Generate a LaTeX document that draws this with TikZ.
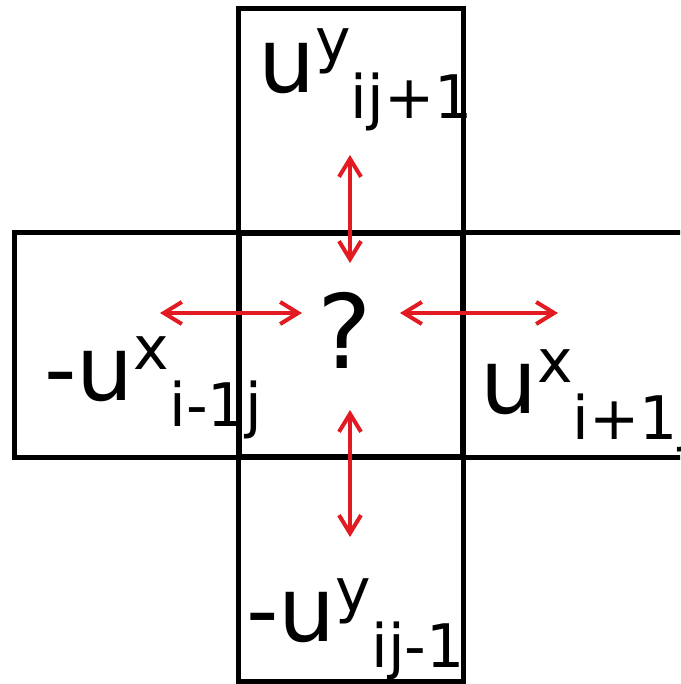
\documentclass[tikz,border=0pt]{standalone}
\usepackage{fontspec}
\setmainfont{DejaVu Sans}
\usetikzlibrary{arrows.meta}
\definecolor{arrowred}{RGB}{226,27,34}
\newcommand{\cellfont}{\fontsize{64}{64}\selectfont}
\newcommand{\idxfont}{\fontsize{42.7}{43}\selectfont}
\newcommand{\flux}[3]{\cellfont #1\raisebox{0.75cm}{\idxfont #2}\raisebox{-0.65cm}{\idxfont #3}}
\tikzset{
  cell/.style = {draw, rectangle, minimum size=5.6cm, inner sep=0pt, line width=0.125cm},
  flow/.style = {draw=arrowred, line width=0.1cm,
    {Straight Barb[length=0.45cm,width=0.55cm]}-{Straight Barb[length=0.45cm,width=0.55cm]}},
  val/.style = {anchor=base west, inner sep=0pt}
}

\begin{document}
\begin{tikzpicture}[x=0.025cm,y=-0.025cm]
  \useasboundingbox (0,0) rectangle (680,684);
  \clip (0,0) rectangle (680,684);
  % values in the neighbour cells
  \node[val] (top val) at (258,92) {\flux{u}{y}{ij+1}};
  \node[val] (left val) at (44,400) {\flux{-u}{x}{i-1j}};
  \node[val] (right val) at (480,413) {\flux{u}{x}{i+1j}};
  \node[val] (bottom val) at (246,641) {\flux{-u}{y}{ij-1}};
  \node[anchor=base, inner sep=0pt] (unknown) at (345,368) {\fontsize{73}{73}\selectfont ?};
  % cells
  \node[cell] (C) at (351,345) {};
  \node[cell] (N) at (351,121) {};
  \node[cell] (S) at (351,569) {};
  \node[cell] (W) at (127,345) {};
  \node[cell] (E) at (575,345) {};
  % exchange with the neighbours
  \coordinate (Na) at (350,155);
  \coordinate (Nb) at (350,263);
  \coordinate (Sa) at (350,410);
  \coordinate (Sb) at (350,537);
  \coordinate (Wa) at (160,313);
  \coordinate (Wb) at (302,313);
  \coordinate (Ea) at (400,313);
  \coordinate (Eb) at (558,313);
  \draw[flow] (Na) -- (Nb);
  \draw[flow] (Sa) -- (Sb);
  \draw[flow] (Wa) -- (Wb);
  \draw[flow] (Ea) -- (Eb);
\end{tikzpicture}
\end{document}
